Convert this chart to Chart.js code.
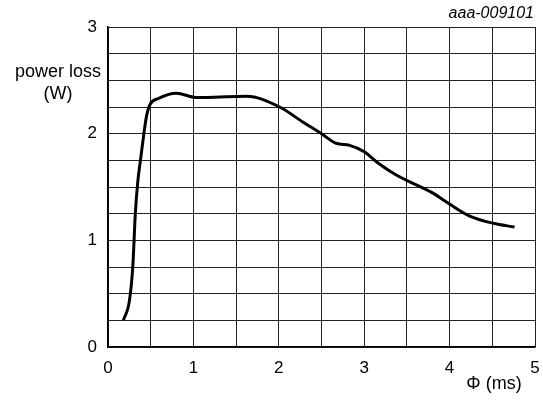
<!DOCTYPE html>
<html>
<head>
<meta charset="utf-8">
<script src="https://cdn.jsdelivr.net/npm/chart.js@4.4.1/dist/chart.umd.min.js"></script>
<style>
    html, body { margin: 0; padding: 0; background: #fff; }
    #wrap { position: relative; width: 543px; height: 400px; }
</style>
</head>
<body>
<div id="wrap"><canvas id="lossChart" width="543" height="400"></canvas></div>
<script>
// curve: phi in ms, power loss in W
const phiMs = [0.18, 0.25, 0.29, 0.32, 0.35, 0.38, 0.42, 0.45, 0.49, 0.59, 0.80, 1.03, 1.15, 1.62,
    2.01, 2.28, 2.50, 2.67, 2.83, 3.00, 3.17, 3.38, 3.61, 3.81, 4.00, 4.23, 4.51, 4.76];
const powerLoss = [0.25, 0.43, 0.75, 1.25, 1.56, 1.75, 2.00, 2.16, 2.27, 2.33, 2.38, 2.34, 2.34, 2.35,
    2.25, 2.11, 2.00, 1.91, 1.89, 1.83, 1.72, 1.61, 1.52, 1.44, 1.34, 1.23, 1.16, 1.125];

const xTicks = [0, 1, 2, 3, 4, 5];
const yTicks = [0, 1, 2, 3];

const fontFamily = '"Liberation Sans", Arial, sans-serif';

// axis titles sit horizontally, so draw them ourselves
const labelsPlugin = {
    id: 'labels',
    afterDraw(chart) {
        const ctx = chart.ctx;
        ctx.save();
        ctx.fillStyle = '#000';
        ctx.textAlign = 'center';
        ctx.textBaseline = 'middle';
        ctx.font = '18px ' + fontFamily;
        ctx.fillText('power loss', 58, 72);
        ctx.fillText('(W)', 58, 94);
        ctx.fillText('\u03A6 (ms)', 494, 384);
        ctx.textAlign = 'right';
        ctx.font = 'italic 16px ' + fontFamily;
        ctx.fillText('aaa-009101', 534, 14);
        ctx.restore();
    }
};

function initChart() {
    const ctx = document.getElementById('lossChart').getContext('2d');
    new Chart(ctx, {
        type: 'scatter',
        data: {
            datasets: [{
                label: 'power loss',
                data: phiMs.map((x, i) => ({ x: x, y: powerLoss[i] })),
                showLine: true,
                borderColor: '#000',
                borderWidth: 3,
                pointRadius: 0,
                cubicInterpolationMode: 'monotone',
            }]
        },
        options: {
            animation: false,
            responsive: false,
            layout: { padding: { top: 27, right: 8, left: 0, bottom: 0 } },
            plugins: { legend: { display: false }, tooltip: { enabled: false } },
            scales: {
                x: {
                    type: 'linear',
                    min: 0, max: 5,
                    afterFit: (s) => {
                        s.height = 53;
                        s.paddingLeft = 0;
                        s.paddingRight = 0;
                    },
                    afterBuildTicks: (s) => {
                        const t = [];
                        for (let v = 0; v <= 10; v++) t.push({ value: v / 2 });
                        s.ticks = t;
                    },
                    ticks: {
                        color: '#000',
                        padding: 11,
                        maxRotation: 0,
                        font: { family: fontFamily, size: 17 },
                        callback: (v) => xTicks.includes(v) ? String(v) : ''
                    },
                    grid: { color: '#222', lineWidth: 1, drawTicks: false },
                    border: { color: '#000', width: 1.5 }
                },
                y: {
                    min: 0, max: 3,
                    afterFit: (s) => {
                        s.width = 108;
                        s.paddingTop = 0;
                        s.paddingBottom = 0;
                    },
                    afterBuildTicks: (s) => {
                        const t = [];
                        for (let v = 0; v <= 12; v++) t.push({ value: v / 4 });
                        s.ticks = t;
                    },
                    ticks: {
                        color: '#000',
                        padding: 11,
                        font: { family: fontFamily, size: 17 },
                        callback: (v) => yTicks.includes(v) ? String(v) : ''
                    },
                    grid: { color: '#222', lineWidth: 1, drawTicks: false },
                    border: { color: '#000', width: 1.5 }
                }
            }
        },
        plugins: [labelsPlugin]
    });
}

initChart();
</script>
</body>
</html>
